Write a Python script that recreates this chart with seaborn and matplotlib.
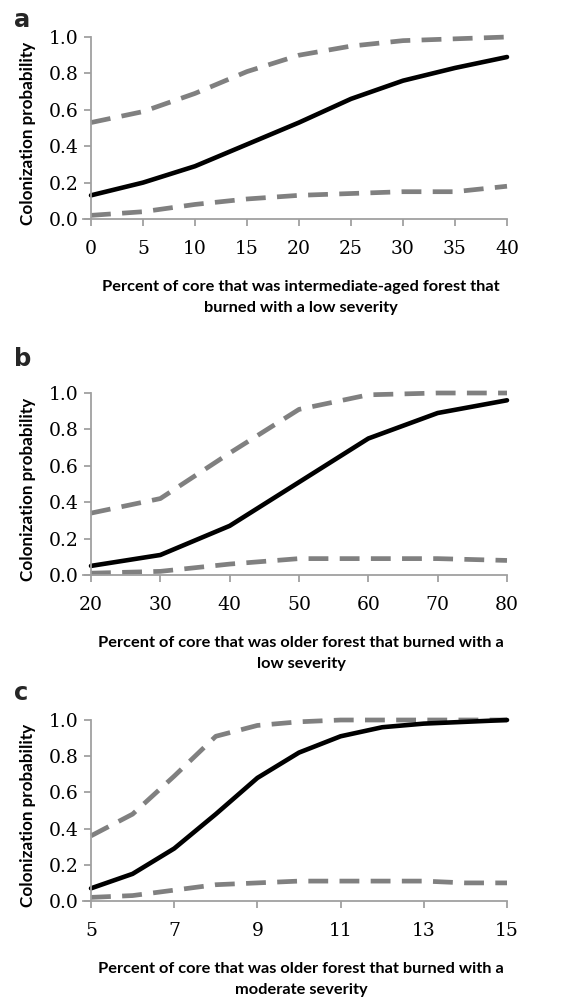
import numpy as np
import pandas as pd
import matplotlib
matplotlib.use("Agg")
import matplotlib.pyplot as plt
import seaborn as sns

sns.set_theme(style="white")
plt.rcParams['font.family'] = ['Lato', 'DejaVu Sans']

# Panel a
a_x = [0, 5, 10, 15, 20, 25, 30, 35, 40]
a_mean = [0.13, 0.20, 0.29, 0.41, 0.53, 0.66, 0.76, 0.83, 0.89]
a_upper = [0.53, 0.59, 0.69, 0.81, 0.90, 0.95, 0.98, 0.99, 1.00]
a_lower = [0.02, 0.04, 0.08, 0.11, 0.13, 0.14, 0.15, 0.15, 0.18]
a_xlabel = "Percent of core that was intermediate-aged forest that\nburned with a low severity"

# Panel b
b_x = [20, 30, 40, 50, 60, 70, 80]
b_mean = [0.05, 0.11, 0.27, 0.51, 0.75, 0.89, 0.96]
b_upper = [0.34, 0.42, 0.67, 0.91, 0.99, 1.00, 1.00]
b_lower = [0.01, 0.02, 0.06, 0.09, 0.09, 0.09, 0.08]
b_xlabel = "Percent of core that was older forest that burned with a\nlow severity"

# Panel c
c_x = [5, 6, 7, 8, 9, 10, 11, 12, 13, 14, 15]
c_mean = [0.07, 0.15, 0.29, 0.48, 0.68, 0.82, 0.91, 0.96, 0.98, 0.99, 1.00]
c_upper = [0.36, 0.48, 0.69, 0.91, 0.97, 0.99, 1.00, 1.00, 1.00, 1.00, 1.00]
c_lower = [0.02, 0.03, 0.06, 0.09, 0.10, 0.11, 0.11, 0.11, 0.11, 0.10, 0.10]
c_xlabel = "Percent of core that was older forest that burned with a\nmoderate severity"

ylabel = "Colonization probability"
yticks = [0.0, 0.2, 0.4, 0.6, 0.8, 1.0]

panels = [
    ("a", a_x, a_mean, a_upper, a_lower, a_xlabel, [0, 5, 10, 15, 20, 25, 30, 35, 40]),
    ("b", b_x, b_mean, b_upper, b_lower, b_xlabel, [20, 30, 40, 50, 60, 70, 80]),
    ("c", c_x, c_mean, c_upper, c_lower, c_xlabel, [5, 7, 9, 11, 13, 15]),
]

fig = plt.figure(figsize=(5.75, 10), dpi=100)
W, H = 575, 1000
# (top px, bottom px) for each axes
boxes = [(37, 219), (393, 575), (720, 901)]
left_px, right_px = 91, 507
letter_base = [27, 366, 700]

spine_col = "#a0a0a0"
for (letter, x, m, up, lo, xl, xt), (t, b), ly in zip(panels, boxes, letter_base):
    ax = fig.add_axes([left_px / W, 1 - b / H, (right_px - left_px) / W, (b - t) / H])
    df = pd.DataFrame({"x": x, "mean": m, "upper": up, "lower": lo})
    for col in ["upper", "lower"]:
        sns.lineplot(data=df, x="x", y=col, ax=ax, color="#808080", lw=3.4)
        ln = ax.lines[-1]
        ln.set_dashes((4.2, 2.4))
        ln.set_clip_on(False)
        ln.set_dash_capstyle("butt")
    sns.lineplot(data=df, x="x", y="mean", ax=ax, color="black", lw=3.3)
    ax.lines[-1].set_clip_on(False)
    ax.set_xlim(xt[0], xt[-1])
    ax.set_ylim(0, 1)
    ax.set_xticks(xt)
    ax.set_yticks(yticks)
    ax.set_yticklabels([f"{v:.1f}" for v in yticks], fontfamily="DejaVu Serif", fontsize=13.5, color="black")
    ax.set_xticklabels([str(v) for v in xt], fontfamily="DejaVu Serif", fontsize=13.5, color="black")
    for s in ["top", "right"]:
        ax.spines[s].set_visible(False)
    for s in ["left", "bottom"]:
        ax.spines[s].set_color(spine_col)
        ax.spines[s].set_linewidth(1.3)
    ax.spines["bottom"].set_bounds(xt[0] - (xt[-1] - xt[0]) * 0.02, xt[-1])
    ax.tick_params(axis="both", direction="out", length=5, width=1.3, color=spine_col,
                   left=True, bottom=True)
    ax.tick_params(axis="x", pad=10)
    ax.tick_params(axis="y", pad=4)
    ax.set_xlabel(xl, fontsize=11.8, fontweight="bold", labelpad=16, linespacing=1.6, color="black")
    ax.xaxis.label.set_x(0.505)
    ax.set_ylabel(ylabel, fontsize=12.3, fontweight="bold", labelpad=9, color="black")
    ax.yaxis.label.set_y(0.47)
    ax.set_facecolor("white")
    fig.text(14 / W, 1 - ly / H, letter, fontsize=17.5, fontweight="bold", va="baseline", ha="left",
             family="DejaVu Sans")

fig.savefig("out.png", dpi=100, facecolor="white")
